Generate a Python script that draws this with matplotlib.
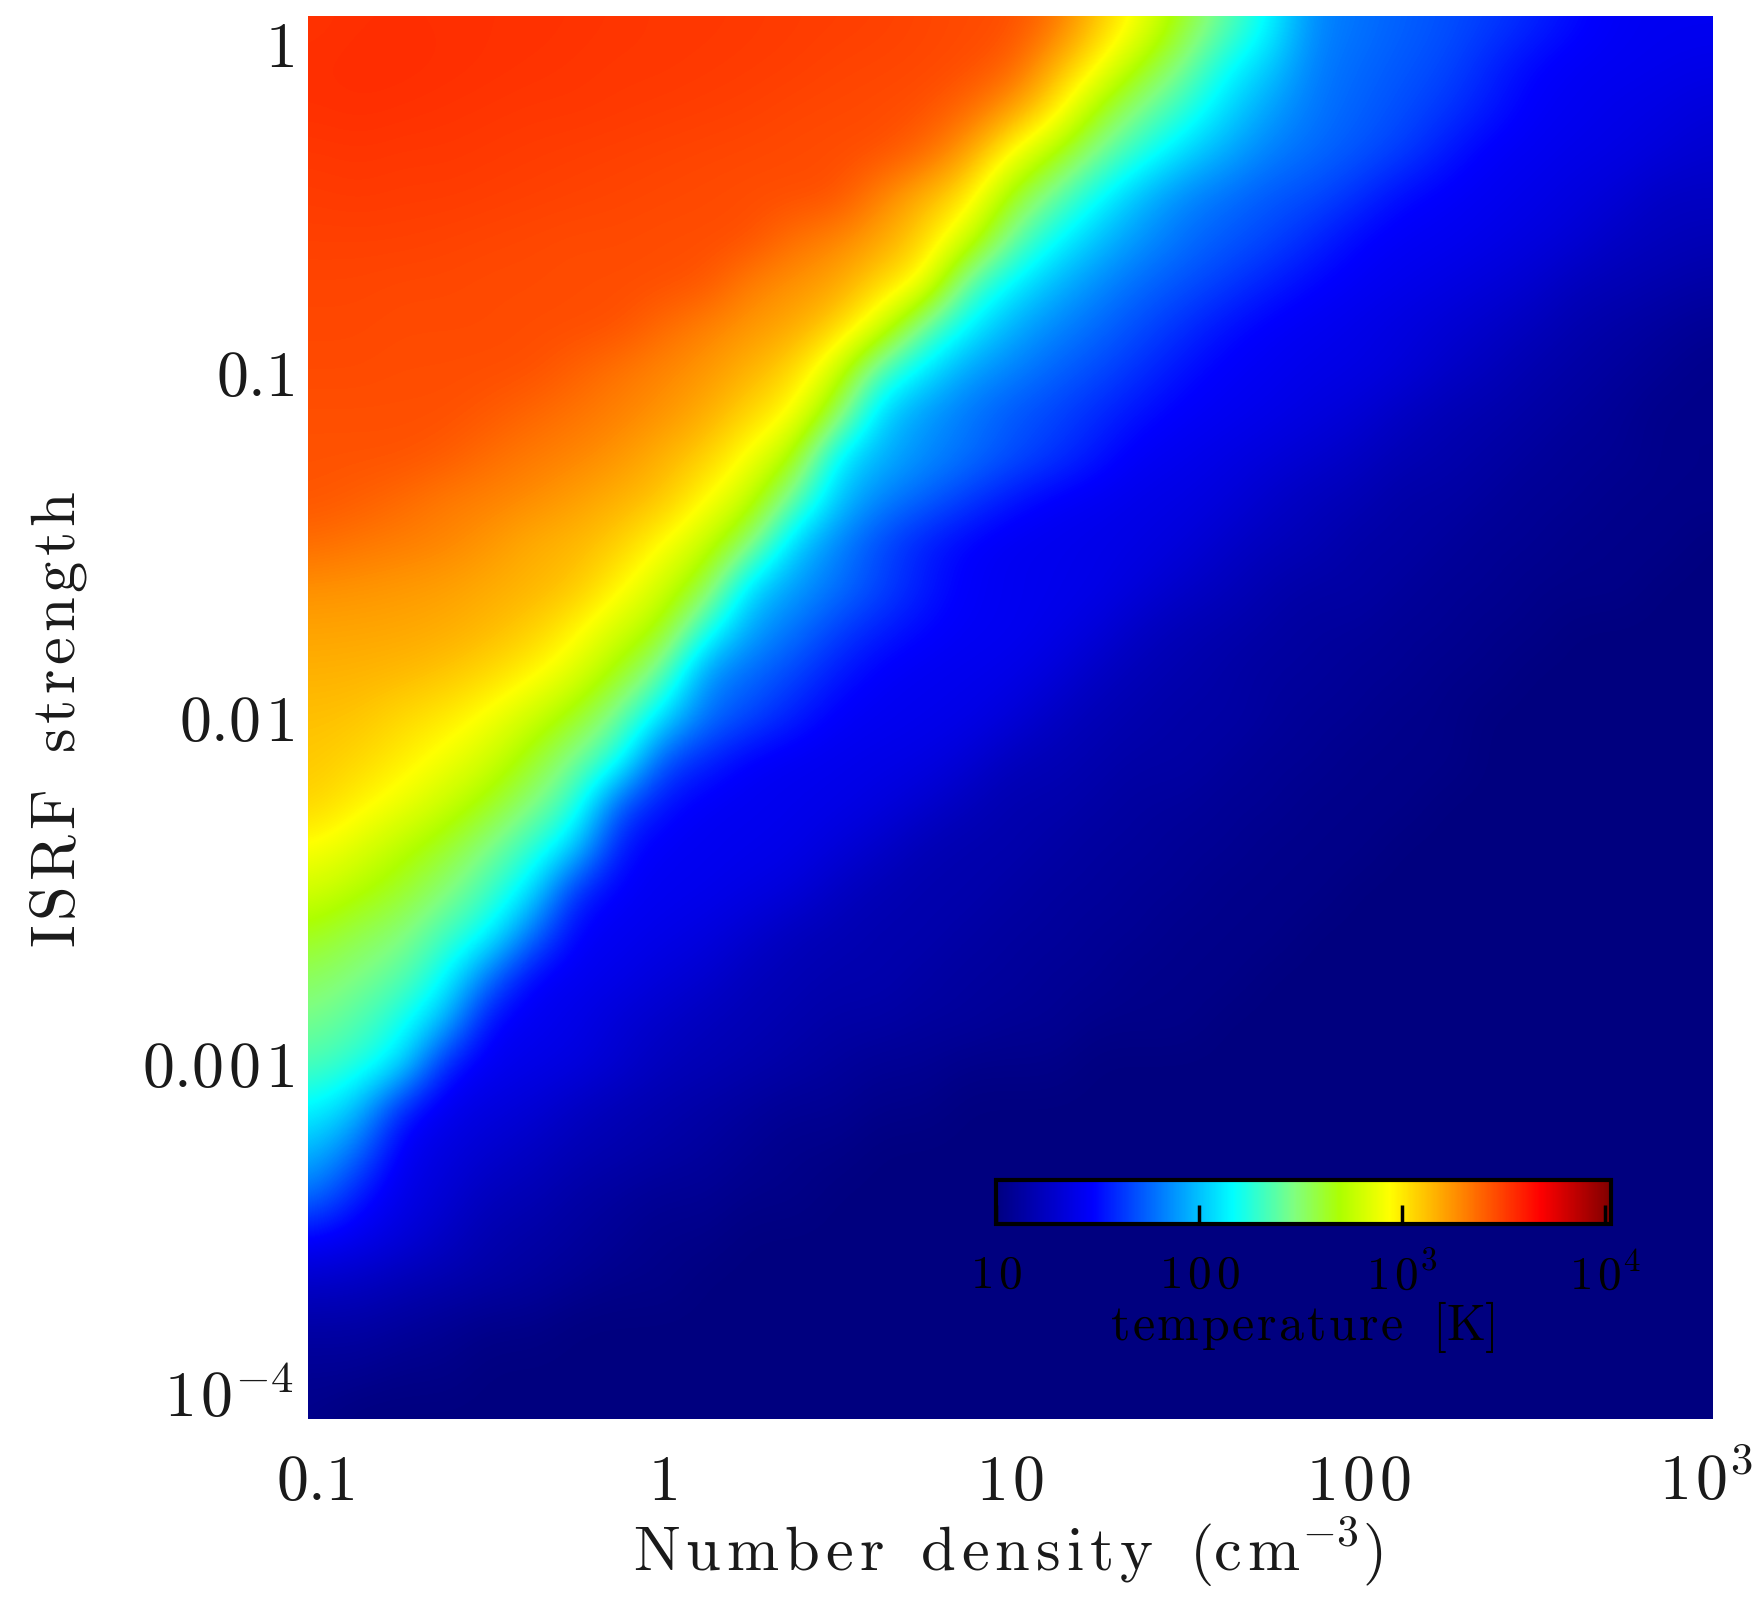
import numpy as np
import matplotlib
matplotlib.use("Agg")
import matplotlib.pyplot as plt
from matplotlib.cm import ScalarMappable
from matplotlib.colors import LinearSegmentedColormap, Normalize
from matplotlib.transforms import ScaledTranslation

plt.rcParams["mathtext.fontset"] = "cm"

W, H = 1764, 1608

# grid of the table below, log10 of density and ISRF, 1/8 dex steps
log_density = [-1.0, -0.875, -0.75, -0.625, -0.5, -0.375, -0.25, -0.125, 0.0, 0.125, 0.25,
               0.375, 0.5, 0.625, 0.75, 0.875, 1.0, 1.125, 1.25, 1.375, 1.5, 1.625, 1.75,
               1.875, 2.0, 2.125, 2.25, 2.375, 2.5, 2.625, 2.75, 2.875, 3.0]
log_isrf = [0.0, -0.125, -0.25, -0.375, -0.5, -0.625, -0.75, -0.875, -1.0, -1.125, -1.25,
            -1.375, -1.5, -1.625, -1.75, -1.875, -2.0, -2.125, -2.25, -2.375, -2.5, -2.625,
            -2.75, -2.875, -3.0, -3.125, -3.25, -3.375, -3.5, -3.625, -3.75, -3.875, -4.0]

# temperature in K, one row per ISRF value (top row first)
temperature = [
    [3400, 3500, 3500, 3500, 3450, 3450, 3400, 3350, 3300, 3300, 3250, 3200, 3150, 3100, 3000, 2900, 2850, 2250, 1300, 800, 420, 240, 140, 70, 62, 55, 50, 44, 38, 32, 28, 27, 27],
    [3500, 3550, 3550, 3500, 3450, 3400, 3350, 3300, 3300, 3250, 3200, 3150, 3050, 3000, 2950, 2850, 2550, 1500, 900, 480, 280, 150, 105, 66, 58, 52, 47, 38, 31, 28, 27, 26, 25],
    [3450, 3500, 3450, 3400, 3350, 3300, 3300, 3250, 3200, 3150, 3100, 3000, 2950, 2900, 2800, 2400, 1700, 1050, 470, 280, 185, 115, 80, 63, 55, 49, 42, 35, 29, 27, 25, 24, 22],
    [3300, 3350, 3300, 3300, 3250, 3200, 3150, 3100, 3050, 3000, 2950, 2900, 2850, 2800, 2400, 1650, 870, 500, 280, 175, 115, 85, 66, 58, 51, 44, 35, 29, 27, 25, 24, 22, 20],
    [3200, 3250, 3200, 3200, 3150, 3100, 3050, 3000, 2950, 2900, 2850, 2830, 2800, 2000, 1450, 1050, 450, 260, 150, 95, 70, 60, 52, 48, 40, 32, 29, 27, 25, 23, 21, 18, 18],
    [3100, 3100, 3100, 3050, 3000, 2950, 2900, 2900, 2850, 2850, 2800, 2250, 1950, 1600, 1150, 650, 270, 150, 100, 75, 60, 52, 46, 38, 31, 28, 27, 25, 23, 21, 18, 17, 16],
    [3000, 3000, 2950, 2950, 2900, 2900, 2850, 2850, 2820, 2700, 2050, 1800, 1600, 1150, 880, 240, 140, 95, 72, 58, 50, 43, 36, 31, 28, 26, 24, 22, 20, 17, 16, 15, 14],
    [2950, 2950, 2900, 2900, 2900, 2850, 2850, 2780, 2350, 2000, 1750, 1550, 1200, 700, 260, 140, 90, 70, 58, 48, 40, 33, 29, 27, 25, 23, 21, 19, 17, 15, 14, 13, 12],
    [2900, 2900, 2850, 2850, 2830, 2800, 2500, 2200, 1950, 1750, 1450, 1150, 650, 220, 130, 82, 68, 56, 48, 40, 33, 29, 27, 25, 24, 22, 19, 17, 15, 14, 13, 12, 11],
    [2800, 2800, 2800, 2800, 2650, 2400, 2200, 2000, 1800, 1500, 1150, 880, 380, 110, 78, 63, 52, 46, 39, 33, 29, 27, 25, 23, 21, 18, 16, 15, 14, 13, 12, 11, 11],
    [2750, 2750, 2750, 2600, 2300, 2100, 1950, 1750, 1450, 1200, 820, 520, 130, 92, 73, 61, 50, 42, 34, 28, 26, 24, 22, 20, 18, 16, 15, 14, 13, 12, 12, 11, 11],
    [2700, 2550, 2350, 2100, 2000, 1850, 1650, 1450, 1280, 880, 600, 250, 105, 68, 55, 43, 34, 29, 27, 25, 24, 22, 19, 17, 16, 14, 14, 13, 12, 12, 11, 11, 11],
    [2300, 2150, 2050, 1950, 1750, 1500, 1400, 1200, 870, 600, 330, 110, 68, 47, 36, 30, 27, 26, 25, 24, 22, 19, 17, 16, 14, 14, 13, 12, 12, 11, 11, 11, 10],
    [1820, 1780, 1720, 1650, 1520, 1420, 1280, 920, 640, 400, 115, 80, 62, 47, 36, 29, 27, 26, 25, 22, 19, 17, 15, 14, 14, 13, 12, 12, 11, 11, 11, 10, 10],
    [1600, 1580, 1560, 1500, 1380, 1200, 920, 640, 480, 170, 82, 62, 45, 36, 31, 28, 27, 25, 22, 18, 16, 15, 14, 13, 13, 12, 12, 11, 11, 10, 10, 10, 10],
    [1450, 1430, 1380, 1280, 1120, 920, 700, 450, 250, 72, 58, 46, 35, 29, 27, 26, 25, 22, 18, 16, 15, 14, 13, 13, 12, 12, 11, 11, 10, 10, 10, 10, 10],
    [1320, 1280, 1120, 1000, 820, 620, 440, 260, 120, 60, 47, 36, 29, 27, 26, 25, 22, 18, 16, 15, 14, 14, 13, 12, 12, 11, 11, 10, 10, 10, 10, 10, 10],
    [1250, 1130, 970, 800, 640, 430, 270, 170, 48, 37, 29, 27, 26, 25, 24, 21, 17, 16, 15, 14, 14, 13, 12, 12, 11, 11, 11, 10, 10, 10, 10, 10, 10],
    [1150, 940, 780, 610, 450, 300, 190, 50, 33, 28, 27, 26, 25, 23, 20, 17, 15, 15, 14, 13, 13, 12, 12, 11, 11, 11, 10, 10, 10, 10, 10, 10, 10],
    [860, 700, 540, 420, 290, 190, 110, 33, 28, 27, 26, 25, 22, 19, 16, 15, 15, 14, 13, 13, 12, 12, 11, 11, 11, 10, 10, 10, 10, 10, 10, 10, 10],
    [640, 520, 420, 310, 210, 125, 38, 29, 27, 26, 24, 22, 18, 16, 15, 15, 14, 13, 13, 12, 12, 11, 11, 11, 10, 10, 10, 10, 10, 10, 10, 10, 10],
    [450, 360, 310, 210, 150, 60, 29, 27, 25, 23, 20, 17, 16, 15, 15, 14, 13, 13, 12, 12, 11, 11, 11, 10, 10, 10, 10, 10, 10, 10, 10, 10, 10],
    [340, 290, 240, 150, 60, 29, 27, 25, 22, 20, 17, 16, 15, 15, 14, 13, 13, 12, 12, 11, 11, 11, 10, 10, 10, 10, 10, 10, 10, 10, 10, 10, 10],
    [280, 230, 165, 95, 30, 27, 25, 21, 19, 17, 16, 15, 14, 14, 13, 13, 12, 12, 11, 11, 11, 10, 10, 10, 10, 10, 10, 10, 10, 10, 10, 10, 10],
    [220, 180, 125, 35, 27, 25, 23, 20, 17, 16, 15, 14, 13, 12, 12, 11, 11, 11, 10, 10, 10, 10, 10, 10, 10, 10, 10, 10, 10, 10, 10, 10, 10],
    [145, 100, 36, 26, 23, 21, 18, 16, 15, 14, 13, 12, 12, 11, 11, 10, 10, 10, 10, 10, 10, 10, 10, 10, 10, 10, 10, 10, 10, 10, 10, 10, 10],
    [95, 58, 27, 23, 20, 18, 16, 15, 14, 13, 12, 11, 11, 10, 10, 10, 10, 10, 10, 10, 10, 10, 10, 10, 10, 10, 10, 10, 10, 10, 10, 10, 10],
    [62, 35, 25, 21, 17, 16, 14, 13, 12, 12, 11, 11, 10, 10, 10, 10, 10, 10, 10, 10, 10, 10, 10, 10, 10, 10, 10, 10, 10, 10, 10, 10, 10],
    [30, 26, 22, 18, 15, 14, 13, 12, 11, 11, 10, 10, 10, 10, 10, 10, 10, 10, 10, 10, 10, 10, 10, 10, 10, 10, 10, 10, 10, 10, 10, 10, 10],
    [19, 18, 16, 15, 14, 13, 12, 11, 11, 10, 10, 10, 10, 10, 10, 10, 10, 10, 10, 10, 10, 10, 10, 10, 10, 10, 10, 10, 10, 10, 10, 10, 10],
    [14, 14, 13, 12, 11, 11, 10, 10, 10, 10, 10, 10, 10, 10, 10, 10, 10, 10, 10, 10, 10, 10, 10, 10, 10, 10, 10, 10, 10, 10, 10, 10, 10],
    [12, 12, 11, 11, 10, 10, 10, 10, 10, 10, 10, 10, 10, 10, 10, 10, 10, 10, 10, 10, 10, 10, 10, 10, 10, 10, 10, 10, 10, 10, 10, 10, 10],
    [11, 10, 10, 10, 10, 10, 10, 10, 10, 10, 10, 10, 10, 10, 10, 10, 10, 10, 10, 10, 10, 10, 10, 10, 10, 10, 10, 10, 10, 10, 10, 10, 10],
]

x_ticks = [-1, 0, 1, 2, 3]
y_ticks = [0, -1, -2, -3, -4]
y_label_shift = [-19, 0, 2, 3, 21]  # px, IDL style labels do not sit on the tick

cbar_ticks = [1, 2, 3, 4]
cbar_top = np.log10(10700)


# the reference text is letter spaced, mathtext has no tracking so put a small kern in
# (not next to a period, mathtext then treats it as punctuation and adds a gap)
def sp(s, gap=0.09):
    out = ""
    for i, c in enumerate(s):
        out += c
        if i < len(s) - 1 and c != "." and s[i + 1] != ".":
            out += r"\hspace{%g}" % gap
    return out


x_labels = ["$" + sp("0.1") + "$", "$1$", "$" + sp("10") + "$", "$" + sp("100") + "$", "$" + sp("10") + "^{3}$"]
y_labels = ["$1$", "$" + sp("0.1") + "$", "$" + sp("0.01") + "$", "$" + sp("0.001") + "$", "$" + sp("10") + "^{-4}$"]
cbar_labels = ["$" + sp("10", 0.12) + "$", "$" + sp("100", 0.12) + "$", "$" + sp("10", 0.12) + "^{3}$", "$" + sp("10", 0.12) + "^{4}$"]

cmap = LinearSegmentedColormap.from_list("idl_jet", [
    (0.0, (0, 0, 0.5)),
    (0.158, (0, 0, 1)),
    (0.385, (0, 1, 1)),
    (0.485, (0.5, 1, 0.5)),
    (0.56, (0.68, 1, 0)),
    (0.64, (1, 1, 0)),
    (0.885, (1, 0, 0)),
    (1.0, (0.5, 0, 0)),
], N=512)
norm = Normalize(1, cbar_top)


def px_axes(left, top, right, bottom):
    return fig.add_axes([left / W, 1 - bottom / H, (right - left) / W, (bottom - top) / H])


fig = plt.figure(figsize=(W / 100, H / 100), dpi=100)

ax = px_axes(308, 17, 1713, 1420)
half = 0.0625
ax.imshow(np.log10(np.array(temperature, dtype=float)), cmap=cmap, norm=norm, aspect="auto",
          interpolation="bicubic", interpolation_stage="data",
          extent=[log_density[0] - half, log_density[-1] + half, log_isrf[-1] - half, log_isrf[0] + half])
ax.set_xlim(-1.02, 3.02)
ax.set_ylim(-4.02, 0.02)
for s in ax.spines.values():
    s.set_visible(False)
ax.set_xticks(x_ticks, x_labels)
ax.set_yticks(y_ticks, y_labels)
ax.tick_params(length=0, labelsize=46, labelcolor="#1a1a1a")
ax.tick_params(axis="x", pad=22)
ax.tick_params(axis="y", pad=10)
for lab, dy in zip(ax.get_yticklabels(), y_label_shift):
    lab.set_transform(lab.get_transform() + ScaledTranslation(0, dy / 100, fig.dpi_scale_trans))

fig.text(1008 / W, 1 - 1552 / H,
         r"$\mathrm{" + sp("Number", 0.11) + r"\ \ " + sp("density", 0.11) + r"\ \ (" + sp("cm", 0.11) + "^{-3})}$",
         fontsize=45, ha="center", va="center", color="#1a1a1a")
fig.text(59 / W, 1 - 720 / H, r"$\mathrm{" + sp("ISRF") + r"\ \ " + sp("strength") + "}$",
         fontsize=45, rotation=90, ha="center", va="center", color="#1a1a1a")

cax = px_axes(996, 1181, 1611, 1225)
cb = fig.colorbar(ScalarMappable(norm=norm, cmap=cmap), cax=cax, orientation="horizontal")
cb.outline.set_linewidth(3)
cb.set_ticks(cbar_ticks, labels=cbar_labels)
cb.minorticks_off()
cax.tick_params(direction="in", length=14, width=2.5, color="black", labelsize=34, labelcolor="black", pad=20)
fig.text(1302 / W, 1 - 1327 / H,
         r"$\mathrm{" + sp("temperature", 0.06) + r"\ \ [" + sp("K", 0.06) + "]}$",
         fontsize=36, ha="center", va="center", color="black")

fig.savefig("out.png", dpi=100, facecolor="white")
